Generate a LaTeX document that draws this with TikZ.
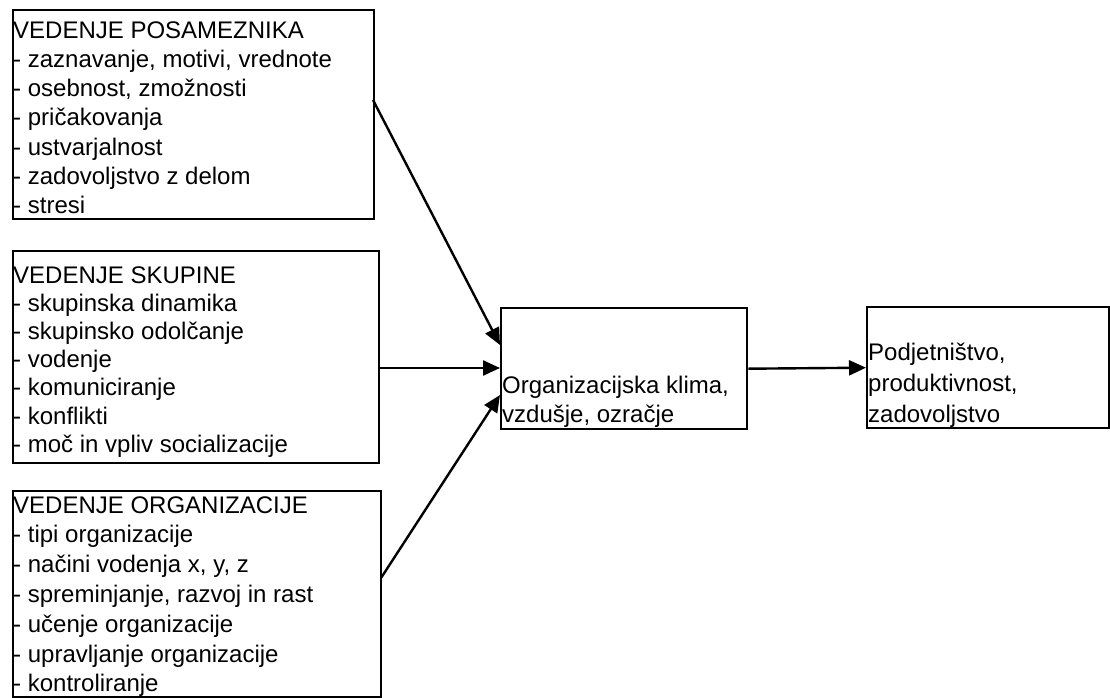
\documentclass[tikz,border=0pt]{standalone}
\usepackage{fontspec}
\setmainfont{Liberation Sans}
\usetikzlibrary{arrows.meta}
\tikzset{
  box/.style={draw, line width=2.4pt, anchor=north west, inner sep=0pt},
  txt/.style={anchor=base west, inner sep=0pt, align=left},
  conn/.style={line width=2.4pt, -{Triangle[length=17pt,width=15pt]}}
}
\begin{document}
\begin{tikzpicture}[x=1pt,y=-1pt]
\useasboundingbox (0,0) rectangle (1110,698);
% boxes
\node[box, minimum width=361pt, minimum height=209pt] (b1) at (12,9) {};
\node[box, minimum width=366pt, minimum height=212pt] (b2) at (12,250) {};
\node[box, minimum width=368pt, minimum height=206pt] (b3) at (12,490) {};
\node[box, minimum width=246pt, minimum height=121pt] (m) at (500,307) {};
\node[box, minimum width=242pt, minimum height=121pt] (r) at (866,306) {};
% texts (anchored at the baseline of their last line)
\node[txt, font=\fontsize{24}{29.3}\selectfont] (t1) at (13,213.8) {VEDENJE POSAMEZNIKA\\- zaznavanje, motivi, vrednote\\- osebnost, zmožnosti\\- pričakovanja\\- ustvarjalnost\\- zadovoljstvo z delom\\- stresi};
\node[txt, font=\fontsize{24}{28.2}\selectfont] (t2) at (13,452.2) {VEDENJE SKUPINE\\- skupinska dinamika\\- skupinsko odolčanje\\- vodenje\\- komuniciranje\\- konflikti\\- moč in vpliv socializacije};
\node[txt, font=\fontsize{24}{29.8}\selectfont] (t3) at (13,691.8) {VEDENJE ORGANIZACIJE\\- tipi organizacije\\- načini vodenja x, y, z\\- spreminjanje, razvoj in rast\\- učenje organizacije\\- upravljanje organizacije\\- kontroliranje};
\node[txt, font=\fontsize{24}{29}\selectfont] (tm) at (502,422) {Organizacijska klima,\\vzdušje, ozračje};
\node[txt, font=\fontsize{24}{31}\selectfont] (tr) at (868,422) {Podjetništvo,\\produktivnost,\\zadovoljstvo};
% connector ends
\coordinate (s1) at (373,100);
\coordinate (e1) at (500,345);
\coordinate (s2) at (378,368);
\coordinate (e2) at (500,368);
\coordinate (s3) at (381,578);
\coordinate (e3) at (500,395);
\draw[conn] (s1) -- (e1);
\draw[conn] (s2) -- (e2);
\draw[conn] (s3) -- (e3);
\draw[conn] (m.east) -- (r.west);
\end{tikzpicture}
\end{document}
